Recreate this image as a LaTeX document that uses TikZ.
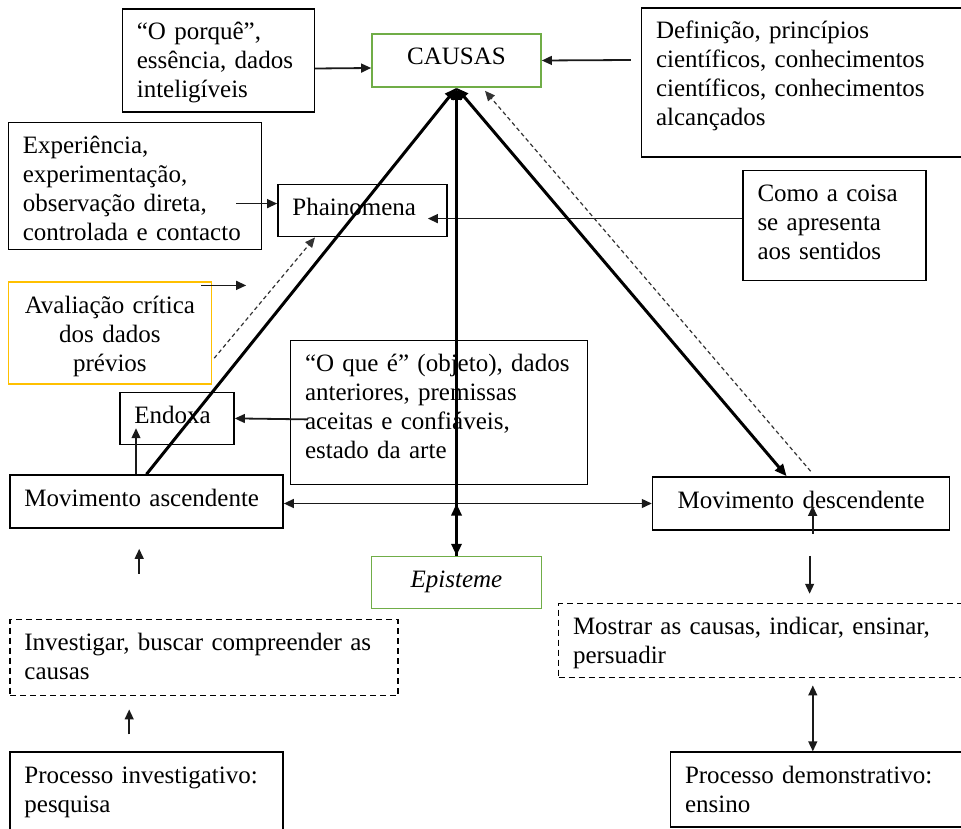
\documentclass[tikz,border=0pt]{standalone}
\usepackage{fontspec}
\setmainfont{Liberation Serif}
\usetikzlibrary{positioning,arrows.meta}
\definecolor{boxgreen}{HTML}{70AD47}
\definecolor{boxgold}{HTML}{FFC000}
\definecolor{linkink}{HTML}{1A1A1A}

\begin{document}
\begin{tikzpicture}[x=0.5pt, y=-0.5pt,
  font=\fontsize{12.5pt}{14.5pt}\selectfont, >={Triangle[length=5pt,width=4.4pt]},
  box/.style={draw=black, line width=0.8pt, inner xsep=7.2pt, inner ysep=3.5pt, text height=12pt, align=left},
  keybox/.style={box, draw=boxgreen, align=center},
  evalbox/.style={box, draw=boxgold, align=center},
  dashbox/.style={box, dash pattern=on 3pt off 2pt},
  link/.style={->, draw=linkink, line width=0.9pt},
  heavy/.style={draw=black, line width=1.5pt, >={Triangle[length=6pt,width=5pt]}},
  hint/.style={->, draw=black!80, line width=0.6pt, dash pattern=on 2pt off 1.5pt}]
\useasboundingbox (0,0) rectangle (961,828);
% causes
\node[keybox, text width=70.1pt, text depth=7.5pt] (causas) at (456.5,60.5) {CAUSAS};
\node[box, text width=81.6pt, text depth=32.5pt, left=28pt of causas] (porque) {“O porquê”,\\essência, dados\\inteligíveis};
\node[box, text width=145.6pt, text depth=55.5pt, right=49.5pt of causas, yshift=-11pt] (defin) {Definição, princípios\\científicos, conhecimentos\\científicos, conhecimentos\\alcançados};
% phenomena
\node[box, text width=70.1pt, text depth=7pt, below=48pt of causas, xshift=-47pt] (phain) {Phainomena};
\node[box, text width=112.1pt, text depth=44.5pt, left=7.5pt of phain, yshift=12.25pt] (exper) {Experiência,\\experimentação,\\observação direta,\\controlada e contacto};
\node[box, text width=77.1pt, text depth=36pt, below=6pt of defin, xshift=16.5pt] (como) {Como a coisa\\se apresenta\\aos sentidos};
\node[evalbox, text width=87.1pt, text depth=32pt, below=15.5pt of exper, xshift=-12.5pt] (aval) {Avaliação crítica\\dos dados\\prévios};
% movements
\node[box, text width=122.1pt, text depth=7.5pt] (movasc) at (146.5,501.5) {Movimento ascendente};
\node[box, text width=42.6pt, text depth=7pt, above=14.5pt of movasc, xshift=15.25pt] (endoxa) {Endoxa};
\node[box, text width=134pt, text depth=53pt, right=27.5pt of endoxa, yshift=3pt] (oque) {“O que é” (objeto), dados\\anteriores, premissas\\aceitas e confiáveis,\\estado da arte};
\node[box, align=center, text width=134.1pt, text depth=7.5pt, right=184pt of movasc, yshift=-1pt] (movdesc) {Movimento descendente};
\node[keybox, text width=70.6pt, text depth=7pt, below=234pt of causas] (episteme) {\textit{Episteme}};
% processes
\node[dashbox, text width=179.6pt, text depth=19pt, below=45pt of movasc.south west, anchor=north west] (invest) {Investigar, buscar compreender as\\causas};
\node[box, text width=122.1pt, text depth=21pt, below=27.5pt of invest.south west, anchor=north west] (procinv) {Processo investigativo:\\pesquisa};
\node[dashbox, text width=195.6pt, text depth=18pt, below=36pt of movdesc.south west, anchor=north west, xshift=-47pt] (mostrar) {Mostrar as causas, indicar, ensinar,\\persuadir};
\node[box, text width=145.6pt, text depth=18.5pt, below=36.5pt of mostrar.south west, anchor=north west, xshift=56pt] (procdem) {Processo demonstrativo:\\ensino};
% links
\draw[link] ([yshift=-4pt]porque.east) -- ([yshift=-3.75pt]causas.west);
\draw[link] ([xshift=-5pt,yshift=11.25pt]defin.west) -- (causas.east);
\draw[link] ([xshift=-13pt,yshift=-8.75pt]exper.east) -- ([yshift=3.5pt]phain.west);
\draw[link] ([yshift=3.5pt]como.west) -- ([xshift=-10pt,yshift=-4pt]phain.east);
\draw[link] ([xshift=-5.5pt,yshift=-2pt]aval.north east) -- ++(22.5pt,0);
\draw[hint] ([xshift=1pt,yshift=-12.5pt]aval.east) -- ([xshift=-23.75pt]phain.south);
\draw[link] ([xshift=9pt,yshift=-3.5pt]oque.west) -- (endoxa.east);
\draw[link] ([xshift=-5.25pt]movasc.north) -- ([xshift=-20.5pt,yshift=8.5pt]endoxa.south);
\draw[link, <->] ([yshift=-1pt]movasc.east) -- (movdesc.west);
% triangle
\draw[heavy, ->] (movasc.north) -- (causas.south);
\draw[heavy, <->] (causas.south) -- (episteme.north);
\draw[heavy, ->] (episteme.north) -- (episteme.north |- movdesc.west);
\draw[heavy, <->] (causas.south) -- ([xshift=-7.25pt]movdesc.north);
\draw[hint] ([xshift=4.75pt,yshift=2.5pt]movdesc.north) -- ([xshift=14.25pt,yshift=-1.5pt]causas.south);
% lower arrows
\draw[link] ([xshift=5.75pt,yshift=-1.5pt]movdesc.south) -- ([xshift=5.75pt,yshift=12.5pt]movdesc.south);
\draw[link] ([xshift=4.25pt,yshift=-12.5pt]movdesc.south) -- ([xshift=4.25pt,yshift=-31.5pt]movdesc.south);
\draw[link, <->] ([xshift=71.5pt]procdem.north west) -- ([xshift=71.5pt,yshift=33pt]procdem.north west);
\draw[link] ([xshift=65pt,yshift=-22.5pt]movasc.south west) -- ([xshift=65pt,yshift=-10pt]movasc.south west);
\draw[link] ([xshift=60pt,yshift=-19pt]invest.south west) -- ([xshift=60pt,yshift=-6.5pt]invest.south west);
\end{tikzpicture}
\end{document}
